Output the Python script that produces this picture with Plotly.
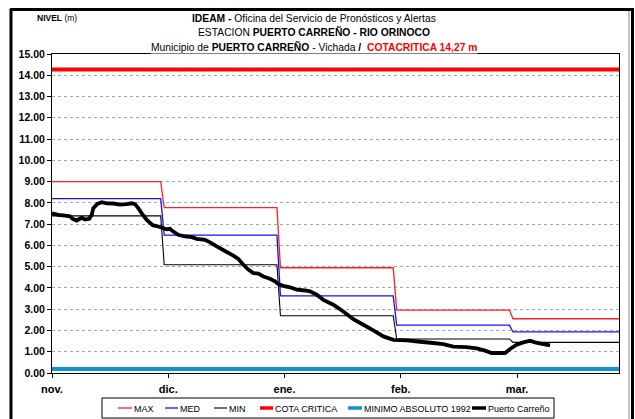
import plotly.graph_objects as go

# ---- data -------------------------------------------------------------
months = ["nov.", "dic.", "ene.", "feb.", "mar."]

# monthly reference levels (m)
max_level = [9.00, 7.78, 4.95, 2.96, 2.55]
med_level = [8.20, 6.48, 3.63, 2.25, 1.93]
min_level = [7.39, 5.09, 2.69, 1.60, 1.44]

cota_critica = 14.27
minimo_absoluto_1992 = 0.19

# daily observations at Puerto Carreño; position in months since 1 Nov
carreno_pos = [
    0.000, 0.054, 0.112, 0.155, 0.178, 0.212, 0.255, 0.284, 0.321, 0.342,
    0.355, 0.390, 0.428, 0.471, 0.527, 0.585, 0.643, 0.686, 0.714, 0.742,
    0.772, 0.815, 0.866, 0.914, 0.957, 0.987, 1.015, 1.043, 1.086, 1.144,
    1.202, 1.245, 1.316, 1.359, 1.417, 1.503, 1.560, 1.603, 1.646, 1.689,
    1.732, 1.775, 1.818, 1.875, 1.918, 1.947, 1.990, 2.047, 2.105, 2.176,
    2.219, 2.277, 2.334, 2.420, 2.506, 2.592, 2.678, 2.764, 2.850, 2.936,
    3.051, 3.166, 3.280, 3.366, 3.452, 3.567, 3.653, 3.724, 3.782, 3.897,
    3.940, 3.997, 4.054, 4.112, 4.155, 4.226, 4.284,
]
carreno_level = [
    7.51, 7.44, 7.40, 7.37, 7.25, 7.17, 7.30, 7.22, 7.25, 7.44,
    7.75, 7.95, 8.03, 7.98, 7.97, 7.92, 7.94, 7.98, 7.94, 7.75,
    7.51, 7.20, 6.95, 6.89, 6.81, 6.76, 6.78, 6.65, 6.50, 6.42,
    6.39, 6.31, 6.26, 6.14, 5.95, 5.69, 5.52, 5.36, 5.09, 4.86,
    4.70, 4.67, 4.54, 4.43, 4.31, 4.18, 4.10, 4.03, 3.92, 3.88,
    3.84, 3.68, 3.44, 3.21, 2.89, 2.53, 2.27, 2.00, 1.72, 1.56,
    1.53, 1.47, 1.41, 1.36, 1.24, 1.22, 1.16, 1.05, 0.94, 0.94,
    1.13, 1.33, 1.44, 1.52, 1.44, 1.36, 1.30,
]

y_ticks = [i for i in range(16)]

# ---- layout geometry (pixels) -----------------------------------------
FIG_W, FIG_H = 635, 419
L, R, T, B = 52, 619, 54, 373
X_END = 4.877


def px(x):
    return (x - L) / (R - L)


def py(y):
    return (B - y) / (B - T)


SANS = "Liberation Sans, Arial, sans-serif"

styles = {
    "MAX": dict(color="#FF2020", width=1.3),
    "MED": dict(color="#1010FF", width=1.3),
    "MIN": dict(color="#000000", width=1.1),
    "COTA CRITICA": dict(color="#FF0000", width=4),
    "MINIMO ABSOLUTO 1992": dict(color="#0E96CF", width=4),
    "Puerto Carreño": dict(color="#000000", width=3.8),
}


def monthly_steps(levels):
    """Monthly values as a stepped line, each change spread over about a day."""
    xs, ys = [], []
    n = len(levels)
    for i, v in enumerate(levels):
        start = 0.0 if i == 0 else i - 0.035
        end = X_END if i == n - 1 else i + 1 - 0.065
        xs += [start, end]
        ys += [v, v]
    return xs, ys


fig = go.Figure()

for name, levels in (("MAX", max_level), ("MED", med_level), ("MIN", min_level)):
    xs, ys = monthly_steps(levels)
    fig.add_trace(go.Scatter(x=xs, y=ys, mode="lines", name=name,
                             line=styles[name], hoverinfo="skip"))

fig.add_trace(go.Scatter(x=[0, X_END], y=[cota_critica] * 2, mode="lines",
                         name="COTA CRITICA", line=styles["COTA CRITICA"]))
fig.add_trace(go.Scatter(x=[0, X_END], y=[minimo_absoluto_1992] * 2, mode="lines",
                         name="MINIMO ABSOLUTO 1992",
                         line=styles["MINIMO ABSOLUTO 1992"]))
fig.add_trace(go.Scatter(x=carreno_pos, y=carreno_level, mode="lines",
                         name="Puerto Carreño",
                         line=dict(**styles["Puerto Carreño"], simplify=False)))

shapes = []
annotations = []

# outer frame
shapes.append(dict(type="line", xref="paper", yref="paper",
                   x0=px(11), x1=px(11), y0=py(9), y1=py(430),
                   line=dict(color="black", width=3)))
shapes.append(dict(type="line", xref="paper", yref="paper",
                   x0=px(10), x1=px(634), y0=py(9.5), y1=py(9.5),
                   line=dict(color="black", width=3)))
shapes.append(dict(type="line", xref="paper", yref="paper",
                   x0=px(632.5), x1=px(632.5), y0=py(9), y1=py(430),
                   line=dict(color="black", width=3)))
shapes.append(dict(type="line", xref="paper", yref="paper",
                   x0=px(629), x1=px(629), y0=py(11), y1=py(430),
                   line=dict(color="#8A8A8A", width=1)))

# legend box
shapes.append(dict(type="rect", xref="paper", yref="paper",
                   x0=px(102), x1=px(554), y0=py(398), y1=py(418),
                   line=dict(color="black", width=1), fillcolor="white"))
legend_items = [
    ("MAX", 118, 132),
    ("MED", 165, 178),
    ("MIN", 214, 227),
    ("COTA CRITICA", 260, 273),
    ("MINIMO ABSOLUTO 1992", 348, 362),
    ("Puerto Carreño", 472, 486),
]
for name, x0, x1 in legend_items:
    st = styles[name]
    shapes.append(dict(type="line", xref="paper", yref="paper",
                       x0=px(x0), x1=px(x1), y0=py(408), y1=py(408),
                       line=dict(color=st["color"], width=min(st["width"], 3.5))))
    annotations.append(dict(xref="paper", yref="paper", x=px(x1), y=py(408.5),
                            xanchor="left", yanchor="middle", showarrow=False,
                            text=name, font=dict(family=SANS, size=9, color="black")))

# title block
title_lines = [
    ("<b>IDEAM -</b> Oficina del Servicio de Pronósticos y Alertas", 18, None),
    ("ESTACION <b>PUERTO CARREÑO - RIO ORINOCO</b>", 32, None),
    ("Municipio de <b>PUERTO CARREÑO</b> - Vichada <b>/</b>  "
     "<b><span style='color:#FF0000'>COTACRITICA 14,27 m</span></b>", 46.5, "white"),
]
for text, y, bg in title_lines:
    ann = dict(xref="paper", yref="paper", x=px(314), y=py(y),
               xanchor="center", yanchor="middle", showarrow=False,
               text=text, font=dict(family=SANS, size=10.3, color="black"))
    if bg:
        ann["bgcolor"] = bg
        ann["borderpad"] = 0
    annotations.append(ann)

annotations.append(dict(xref="paper", yref="paper", x=px(35), y=py(18),
                        xanchor="left", yanchor="middle", showarrow=False,
                        text="<b>NIVEL</b> (m)",
                        font=dict(family=SANS, size=8.5, color="black")))

fig.update_layout(
    width=FIG_W, height=FIG_H,
    margin=dict(l=L, r=FIG_W - R, t=T, b=FIG_H - B),
    paper_bgcolor="white", plot_bgcolor="white",
    showlegend=False,
    shapes=shapes,
    annotations=annotations,
    xaxis=dict(
        range=[0, X_END], tickvals=list(range(len(months))),
        ticktext=[f"<b>{m}</b>" for m in months],
        showgrid=False, zeroline=False,
        showline=True, linecolor="black", linewidth=1, mirror=True,
        ticks="outside", ticklen=4, tickcolor="black",
        tickfont=dict(family=SANS, size=11, color="black"),
        ticklabelstandoff=2,
    ),
    yaxis=dict(
        range=[0, 15], tickvals=y_ticks,
        ticktext=[f"<b>{v:.2f}</b>" for v in y_ticks],
        showgrid=True, gridcolor="#A6A6A6", gridwidth=1, griddash="dot",
        zeroline=False,
        showline=True, linecolor="black", linewidth=1, mirror=True,
        ticks="outside", ticklen=4, tickcolor="black",
        tickfont=dict(family=SANS, size=10.5, color="black"),
    ),
    font=dict(family=SANS),
)

fig.write_html("out.html")
